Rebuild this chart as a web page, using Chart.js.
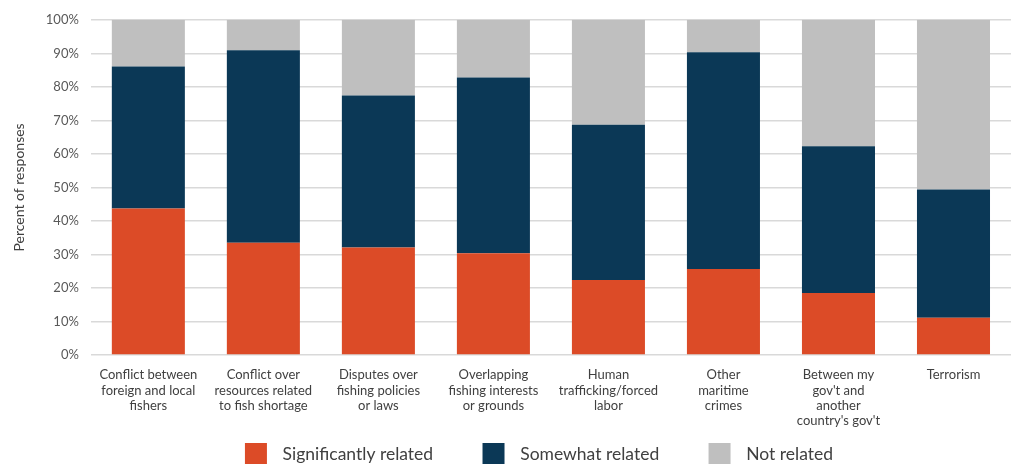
<!DOCTYPE html>
<html>
<head>
<meta charset="utf-8">
<script src="https://cdn.jsdelivr.net/npm/chart.js@4"></script>
<style>
html,body{margin:0;padding:0;background:#fff;}
#wrap{width:1011px;height:464px;}
</style>
</head>
<body>
<div id="wrap"><canvas id="c"></canvas></div>
<script>
const categories = [
  ["Conflict between","foreign and local","fishers"],
  ["Conflict over","resources related","to fish shortage"],
  ["Disputes over","fishing policies","or laws"],
  ["Overlapping","fishing interests","or grounds"],
  ["Human","trafficking/forced","labor"],
  ["Other","maritime","crimes"],
  ["Between my","gov't and","another","country's gov't"],
  ["Terrorism"]
];
const significantly = [43.7, 33.5, 32.1, 30.4, 22.4, 25.7, 18.5, 11.1];
const somewhat      = [42.4, 57.4, 45.3, 52.4, 46.3, 64.6, 43.8, 38.3];
const notRelated    = [13.9, 9.1, 22.6, 17.2, 31.3, 9.7, 37.7, 50.6];
const seriesNames = ["Significantly related", "Somewhat related", "Not related"];
const colors = ["#DC4B27", "#0B3856", "#BFBFBF"];

const FONT = "Lato, 'Noto Sans', sans-serif";

const legendShift = {
  id: 'legendShift',
  afterLayout(chart) {
    const lg = chart.legend;
    if (lg) { lg.left += 30; lg.right += 30; }
  }
};

new Chart(document.getElementById('c'), {
  type: 'bar',
  plugins: [legendShift],
  data: {
    labels: categories,
    datasets: [
      {label: seriesNames[0], data: significantly, backgroundColor: colors[0]},
      {label: seriesNames[1], data: somewhat, backgroundColor: colors[1]},
      {label: seriesNames[2], data: notRelated, backgroundColor: colors[2]}
    ].map(d => Object.assign(d, {categoryPercentage: 1, barPercentage: 0.635, borderWidth: 0}))
  },
  options: {
    responsive: true,
    maintainAspectRatio: false,
    animation: false,
    layout: {padding: {left: 7, right: 0, top: 12, bottom: -11}},
    plugins: {
      legend: {
        position: 'bottom',
        labels: {
          boxWidth: 22, boxHeight: 22, padding: 10,
          color: '#404040',
          font: {family: FONT, size: 17.5},
          generateLabels(chart) {
            const items = Chart.defaults.plugins.legend.labels.generateLabels(chart);
            items.forEach((it, i) => {
              it.text = '\u2004\u200A' + it.text + (i < items.length - 1 ? '\u2003\u2003\u2003' : '');
            });
            return items;
          }
        }
      },
      tooltip: {enabled: false}
    },
    scales: {
      x: {
        stacked: true,
        grid: {display: false},
        border: {display: false},
        ticks: {color: '#404040', font: {family: FONT, size: 13, lineHeight: 1.18}, maxRotation: 0, autoSkip: false, padding: 4.3}
      },
      y: {
        stacked: true,
        min: 0, max: 100,
        grid: {color: '#D9D9D9', lineWidth: 1.5, drawTicks: false},
        border: {display: false},
        ticks: {stepSize: 10, padding: 12, color: '#595959', font: {family: FONT, size: 13}, callback: v => v + '%'},
        title: {display: true, text: 'Percent of responses', color: '#404040', font: {family: FONT, size: 14}, padding: {bottom: 6}}
      }
    }
  }
});
</script>
</body>
</html>
